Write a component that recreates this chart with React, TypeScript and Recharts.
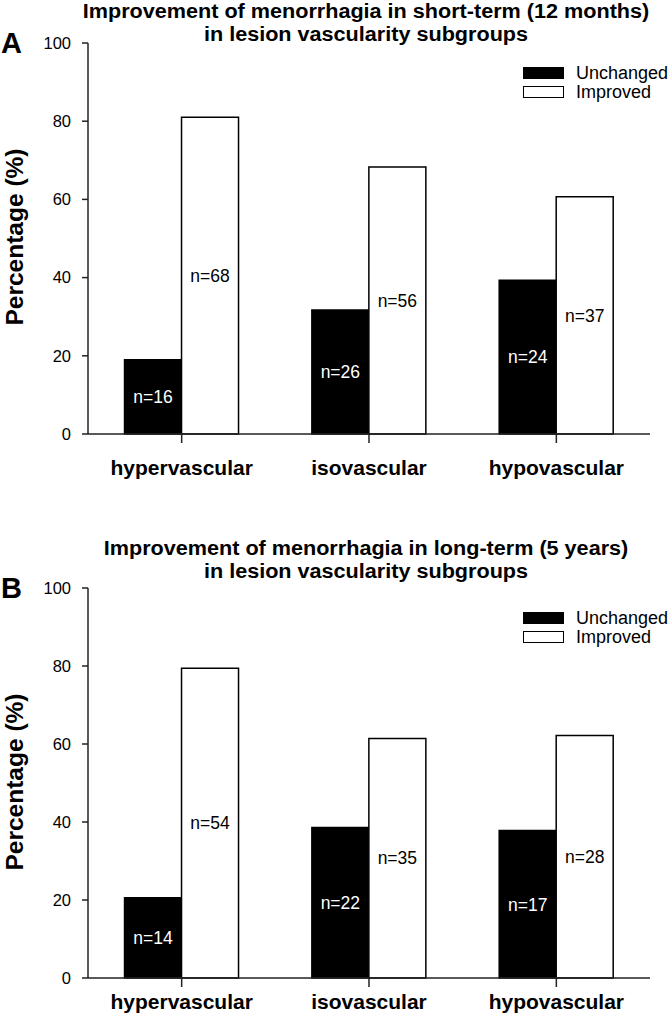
import { BarChart, Bar, XAxis, YAxis, LabelList } from 'recharts';

const categories = ['hypervascular', 'isovascular', 'hypovascular'];
const yTicks = [0, 20, 40, 60, 80, 100];

// short-term (12 months)
const shortUnchanged = [19.0, 31.7, 39.3];
const shortImproved = [81.0, 68.3, 60.7];
const shortUnchangedN = ['n=16', 'n=26', 'n=24'];
const shortImprovedN = ['n=68', 'n=56', 'n=37'];

// long-term (5 years)
const longUnchanged = [20.6, 38.6, 37.8];
const longImproved = [79.4, 61.4, 62.2];
const longUnchangedN = ['n=14', 'n=22', 'n=17'];
const longImprovedN = ['n=54', 'n=35', 'n=28'];

const font = '"Liberation Sans", Arial, sans-serif';

function buildRows(unch: number[], impr: number[], unchN: string[], imprN: string[]) {
  return categories.map((c, i) => ({
    name: c,
    unchanged: unch[i],
    improved: impr[i],
    unchangedN: unchN[i],
    improvedN: imprN[i],
  }));
}

function CatTick({ x, y, payload, dy }: any) {
  return (
    <text x={x} y={y + dy} textAnchor="middle" fontFamily={font} fontWeight="bold" fontSize={21} fill="#000">
      {payload.value}
    </text>
  );
}

function Panel({ data, top, height, plotTop, xAxisHeight, tickDy }: any) {
  return (
    <div style={{ position: 'absolute', left: 0, top, width: 670, height }}>
      <BarChart
        width={670}
        height={height}
        data={data}
        margin={{ top: plotTop, right: 20, bottom: 0, left: 0 }}
        barCategoryGap="19.5%"
        barGap={0}
      >
        <XAxis
          dataKey="name"
          height={xAxisHeight}
          axisLine={{ stroke: '#222', strokeWidth: 1.5 }}
          tickLine={{ stroke: '#222', strokeWidth: 1.5 }}
          tickSize={9}
          tick={<CatTick dy={tickDy} />}
          interval={0}
        />
        <YAxis
          width={88}
          domain={[0, 100]}
          ticks={yTicks}
          axisLine={{ stroke: '#222', strokeWidth: 1.5 }}
          tickLine={{ stroke: '#222', strokeWidth: 1.5 }}
          tickSize={6}
          tickMargin={11}
          tick={{ fontFamily: font, fontSize: 16.5, fill: '#000' }}
        />
        <Bar dataKey="unchanged" fill="#000" stroke="#000" strokeWidth={1.5} isAnimationActive={false}>
          <LabelList dataKey="unchangedN" position="center" fill="#fff" fontFamily={font} fontSize={17.5} />
        </Bar>
        <Bar dataKey="improved" fill="#fff" stroke="#000" strokeWidth={1.5} isAnimationActive={false}>
          <LabelList dataKey="improvedN" position="center" fill="#000" fontFamily={font} fontSize={17.5} />
        </Bar>
      </BarChart>
    </div>
  );
}

function Legend({ top }: any) {
  const row = (fill: string, label: string, y: number) => (
    <div style={{ position: 'absolute', left: 523, top: y, display: 'flex', alignItems: 'center' }}>
      <div style={{ width: 39, height: 10, background: fill, border: '1.5px solid #000' }} />
      <span style={{ marginLeft: 12, fontFamily: font, fontSize: 18, color: '#000', lineHeight: '18px' }}>{label}</span>
    </div>
  );
  return (
    <>
      {row('#000', 'Unchanged', top)}
      {row('#fff', 'Improved', top + 19)}
    </>
  );
}

function Title({ lines, top, letter, letterTop, ylabelCenter }: any) {
  return (
    <>
      <div
        style={{
          position: 'absolute', left: 66, width: 600, top, textAlign: 'center',
          fontFamily: font, fontWeight: 'bold', fontSize: 20, lineHeight: '23px', color: '#000',
          transform: 'scaleX(1.08)',
        }}
      >
        {lines.map((l: string) => <div key={l}>{l}</div>)}
      </div>
      <div style={{ position: 'absolute', left: 1, top: letterTop, fontFamily: font, fontWeight: 'bold', fontSize: 29, color: '#000' }}>
        {letter}
      </div>
      <div
        style={{
          position: 'absolute', left: 15, top: ylabelCenter, transform: 'translate(-50%, -50%) rotate(-90deg)',
          whiteSpace: 'nowrap', fontFamily: font, fontWeight: 'bold', fontSize: 24.5, color: '#000',
        }}
      >
        Percentage (%)
      </div>
    </>
  );
}

export default function App() {
  const shortData = buildRows(shortUnchanged, shortImproved, shortUnchangedN, shortImprovedN);
  const longData = buildRows(longUnchanged, longImproved, longUnchangedN, longImprovedN);
  return (
    <div style={{ position: 'absolute', left: 0, top: 0, width: 670, height: 1019, background: '#fff', overflow: 'hidden' }}>
      <Panel data={shortData} top={0} height={509} plotTop={43} xAxisHeight={75} tickDy={30} />
      <Panel data={longData} top={509} height={510} plotTop={79} xAxisHeight={41} tickDy={20} />
      <Title
        lines={['Improvement of menorrhagia in short-term (12 months)', 'in lesion vascularity subgroups']}
        top={0}
        letter="A"
        letterTop={27}
        ylabelCenter={237}
      />
      <Title
        lines={['Improvement of menorrhagia in long-term (5 years)', 'in lesion vascularity subgroups']}
        top={537}
        letter="B"
        letterTop={572}
        ylabelCenter={782}
      />
      <Legend top={64} />
      <Legend top={609} />
    </div>
  );
}
